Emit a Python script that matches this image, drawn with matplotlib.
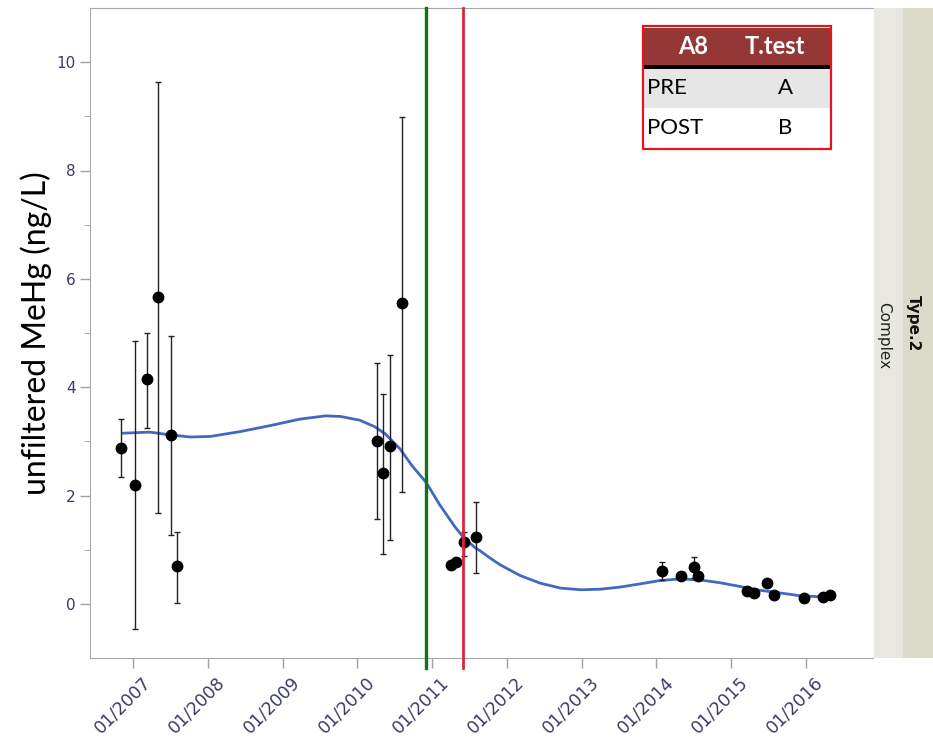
import numpy as np
import matplotlib.pyplot as plt
import matplotlib.transforms as mtransforms
from matplotlib.patches import Rectangle

# Sample dates (decimal years) and unfiltered MeHg concentrations
dates = [2006.84, 2007.02, 2007.18, 2007.33, 2007.51, 2007.59,
         2010.26, 2010.34, 2010.43, 2010.59,
         2011.25, 2011.32, 2011.42, 2011.59,
         2014.08, 2014.33, 2014.51, 2014.56,
         2015.22, 2015.31, 2015.48, 2015.57, 2015.97, 2016.23, 2016.33]
mehg = [2.88, 2.20, 4.15, 5.66, 3.12, 0.69,
        3.00, 2.41, 2.92, 5.55,
        0.72, 0.78, 1.14, 1.23,
        0.61, 0.52, 0.68, 0.52,
        0.23, 0.20, 0.38, 0.17, 0.11, 0.13, 0.17]
# error bar bounds (nan = no bar)
err_low = [2.35, -0.46, 3.25, 1.67, 1.27, 0.02,
           1.56, 0.92, 1.18, 2.07,
           np.nan, np.nan, 0.89, 0.57,
           0.44, np.nan, 0.47, np.nan,
           np.nan, np.nan, np.nan, np.nan, np.nan, np.nan, np.nan]
err_high = [3.41, 4.85, 5.00, 9.63, 4.94, 1.33,
            4.44, 3.87, 4.59, 8.98,
            np.nan, np.nan, 1.33, 1.88,
            0.77, np.nan, 0.86, np.nan,
            np.nan, np.nan, np.nan, np.nan, np.nan, np.nan, np.nan]

# smoother fit through the series
fit_dates = [2006.86, 2007.22, 2007.49, 2007.76, 2008.03, 2008.43, 2008.83,
             2009.23, 2009.57, 2009.77, 2010.03, 2010.23, 2010.37, 2010.57,
             2010.73, 2010.92, 2011.10, 2011.30, 2011.41, 2011.57, 2011.64,
             2011.77, 2011.91, 2012.18, 2012.45, 2012.72, 2012.99, 2013.25,
             2013.52, 2013.79, 2014.05, 2014.32, 2014.59, 2014.85, 2015.12,
             2015.39, 2015.66, 2015.92, 2016.32]
fit_vals = [3.15, 3.17, 3.12, 3.08, 3.09, 3.18, 3.29,
            3.41, 3.47, 3.46, 3.39, 3.27, 3.14, 2.86,
            2.55, 2.24, 1.83, 1.43, 1.24, 1.04, 0.98,
            0.85, 0.72, 0.52, 0.38, 0.29, 0.26, 0.27,
            0.31, 0.37, 0.43, 0.46, 0.44, 0.39, 0.32,
            0.25, 0.20, 0.15, 0.12]

year_ticks = list(range(2007, 2017))
year_labels = ["01/%d" % y for y in year_ticks]
event_green = 2010.92
event_red = 2011.41

table_header = ["A8", "T.test"]
table_rows = [["PRE", "A"], ["POST", "B"]]

fig = plt.figure(figsize=(9.33, 7.37), dpi=100)
ax = fig.add_axes([90 / 933, 79 / 737, 783 / 933, 650 / 737])

ax.plot(fit_dates, fit_vals, color="#4169c1", lw=2.0, zorder=2,
        solid_joinstyle="round", solid_capstyle="round")

d = np.array(dates)
v = np.array(mehg)
lo = np.array(err_low)
hi = np.array(err_high)
has_err = ~np.isnan(lo)
ax.errorbar(d[has_err], v[has_err],
            yerr=[v[has_err] - lo[has_err], hi[has_err] - v[has_err]],
            fmt="none", ecolor="#222222", elinewidth=1.0, capsize=2, capthick=1.0, zorder=3)
ax.plot(d, v, "o", color="black", ms=7.5, zorder=4)

ax.axvline(event_green, color="#127512", lw=2.4, ymin=-0.015, clip_on=False, zorder=5)
ax.axvline(event_red, color="#d9263a", lw=2.0, ymin=-0.015, clip_on=False, zorder=5)

ax.set_xlim(2006.42, 2016.9)
ax.set_ylim(-1, 11)
ax.set_yticks([0, 2, 4, 6, 8, 10])
ax.set_yticks([1, 3, 5, 7, 9], minor=True)
ax.set_xticks(year_ticks)
ax.set_xticklabels(year_labels, rotation=45, ha="right", rotation_mode="anchor")
ax.tick_params(axis="both", colors="#a0a0a0", labelcolor="#3c3c64", labelsize=11, length=7, width=1)
ax.tick_params(axis="x", labelsize=12.5, pad=4)
ax.tick_params(axis="y", which="minor", colors="#a0a0a0", length=4)
# nudge rotated date labels so they end just right of their tick
shift = mtransforms.ScaledTranslation(8 / 100, 0, fig.dpi_scale_trans)
for lab in ax.get_xticklabels():
    lab.set_transform(lab.get_transform() + shift)
for s in ax.spines.values():
    s.set_color("#a8a8a8")
ax.spines["right"].set_visible(False)
ax.set_ylabel("unfiltered MeHg (ng/L)", fontsize=23, family="Lato", labelpad=3)

# summary table
def fx(px):
    return (px - 90) / 783

def fy(py):
    return (658 - py) / 650

tr = ax.transAxes
ax.add_patch(Rectangle((fx(643), fy(65)), fx(831) - fx(643), fy(28) - fy(65),
                       facecolor="#953735", edgecolor="none", transform=tr, zorder=6))
ax.add_patch(Rectangle((fx(643), fy(69)), fx(831) - fx(643), fy(65) - fy(69),
                       facecolor="black", edgecolor="none", transform=tr, zorder=6))
ax.add_patch(Rectangle((fx(643), fy(108)), fx(831) - fx(643), fy(69) - fy(108),
                       facecolor="#e6e6e6", edgecolor="none", transform=tr, zorder=6))
ax.add_patch(Rectangle((fx(643), fy(148)), fx(831) - fx(643), fy(108) - fy(148),
                       facecolor="white", edgecolor="none", transform=tr, zorder=6))
ax.add_patch(Rectangle((fx(643), fy(149)), fx(831) - fx(643), fy(26) - fy(149),
                       facecolor="none", edgecolor="#e8141c", lw=1.6, transform=tr, zorder=7))
ax.text(fx(693), fy(46), table_header[0], color="white", fontsize=17, weight="bold",
        family="Lato", ha="center", va="center", transform=tr, zorder=8)
ax.text(fx(775), fy(46), table_header[1], color="white", fontsize=17, weight="bold",
        family="Lato", ha="center", va="center", transform=tr, zorder=8)
for i, (name, grp) in enumerate(table_rows):
    yc = fy(88 + 40 * i)
    ax.text(fx(647), yc, name, color="black", fontsize=16, family="Lato",
            ha="left", va="center", transform=tr, zorder=8)
    ax.text(fx(785), yc, grp, color="black", fontsize=16, family="Lato",
            ha="center", va="center", transform=tr, zorder=8)

# facet strip on the right
ft = fig.transFigure
fig.patches.append(Rectangle((874 / 933, 79 / 737), 29 / 933, 650 / 737,
                             facecolor="#e8e8e0", edgecolor="none", transform=ft))
fig.patches.append(Rectangle((903 / 933, 79 / 737), 30 / 933, 650 / 737,
                             facecolor="#dcdac9", edgecolor="none", transform=ft))
fig.text(884 / 933, 1 - 336 / 737, "Complex", rotation=-90, fontsize=11,
         ha="center", va="center", color="#222222")
fig.text(913 / 933, 1 - 323 / 737, "Type.2", rotation=-90, fontsize=11, weight="bold",
         ha="center", va="center", color="#111111")

fig.savefig("out.png", dpi=100)
